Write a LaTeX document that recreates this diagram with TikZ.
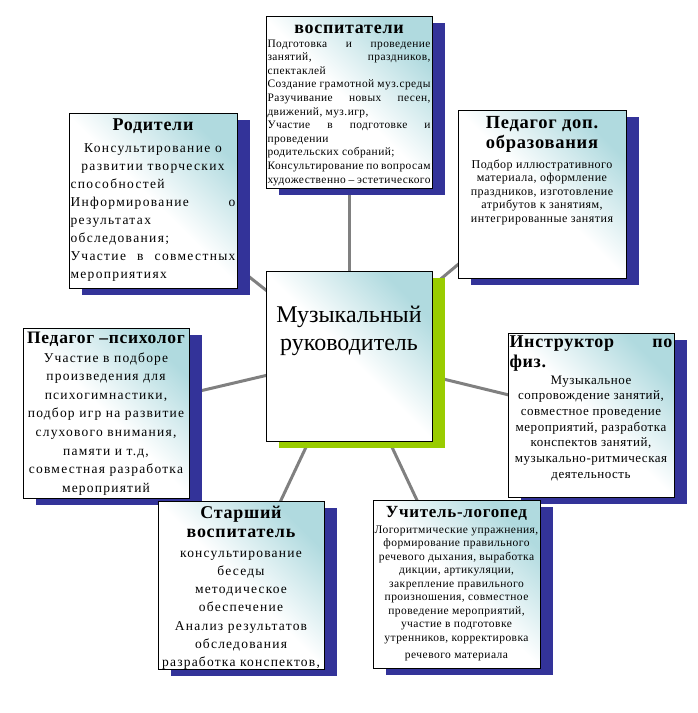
\documentclass[tikz,border=0pt]{standalone}
\usepackage{fontspec}
\setmainfont{Liberation Serif}
\pgfdeclarelayer{bgl}
\pgfdeclarelayer{shl}
\pgfsetlayers{bgl,shl,main}
\definecolor{tealc}{RGB}{176,218,223}
\definecolor{shblue}{RGB}{51,51,153}
\definecolor{shgreen}{RGB}{153,204,0}
\definecolor{lnk}{RGB}{128,128,128}
\newcommand\fsz[2]{\fontsize{#1pt}{#2pt}\selectfont}
\newcommand\LineC[1]{\hbox to\hsize{\hfil#1\hfil}}
\newcommand\LineL[1]{\hbox to\hsize{#1\hfil}}
\newcommand\LineJ[1]{\hbox to\hsize{#1}}
\newcommand\lsp[1]{\addfontfeatures{LetterSpace=#1}}
\newcommand\ttl[1]{\fsz{#1}{20}\bfseries\lsp{4}}
\tikzset{
  panel/.style={draw=black, line width=0.8pt, top color=tealc, bottom color=white, middle color=white, shading angle=-45, anchor=north west, inner sep=0pt, outer sep=0pt},
  link/.style={draw=lnk, line width=3pt},
  ptext/.style={anchor=base, inner sep=0pt, outer sep=0pt},
}
\begin{document}
\begin{tikzpicture}[x=1pt,y=-1pt]
\useasboundingbox (0,0) rectangle (698,713);

% воспитатели
\node[panel, minimum width=166pt, minimum height=172pt,
 path picture={\node[ptext] at ([yshift=-17pt]path picture bounding box.north) {\vtop{\hsize=163pt
  \ttl{18}\LineC{воспитатели}
  \fsz{11.4}{14}\mdseries\LineJ{Подготовка\hfill и\hfill проведение}
  \fsz{11.4}{13.6}\LineJ{занятий,\hfill праздников,}
  \LineL{спектаклей}
  \LineL{Создание грамотной муз.среды}
  \LineJ{Разучивание\hfill новых\hfill песен,}
  \LineL{движений,\ муз.игр,}
  \LineJ{Участие\hfill в\hfill подготовке\hfill и}
  \LineL{проведении}
  \LineL{родительских собраний;}
  \LineL{Консультирование по вопросам}
  \LineL{художественно – эстетического}}};}] (vosp) at (266,16) {};

% Родители
\node[panel, minimum width=168pt, minimum height=175pt,
 path picture={\node[ptext] at ([yshift=-17pt]path picture bounding box.north) {\vtop{\hsize=165pt
  \ttl{18}\LineC{Родители}
  \fsz{13.5}{22}\mdseries\lsp{10}\LineC{Консультирование о}
  \fsz{13.5}{18}\lsp{10}\LineC{развитии творческих}
  \LineL{способностей}
  \LineJ{Информирование\hfill о}
  \LineL{результатах}
  \LineL{обследования;}
  \LineJ{Участие\hfill в\hfill совместных}
  \LineL{мероприятиях}}};}] (rod) at (69,113) {};

% Педагог доп. образования
\node[panel, minimum width=168pt, minimum height=168pt,
 path picture={\node[ptext] at ([yshift=-18pt]path picture bounding box.north) {\vtop{\hsize=165pt
  \ttl{18.5}\LineC{Педагог доп.}
  \LineC{образования}
  \fsz{12}{20}\mdseries\LineC{Подбор иллюстративного}
  \fsz{12}{13.5}\LineC{материала, оформление}
  \LineC{праздников, изготовление}
  \LineC{атрибутов к занятиям,}
  \LineC{интегрированные занятия}}};}] (dop) at (458,110) {};

% Музыкальный руководитель
\node[panel, minimum width=166pt, minimum height=170pt,
 path picture={\node[ptext] at ([yshift=-51pt]path picture bounding box.north) {\vtop{\hsize=163pt
  \fsz{24}{28}\LineC{Музыкальный}
  \LineC{руководитель}}};}] (mr) at (266,271) {};

% Педагог-психолог
\node[panel, minimum width=166pt, minimum height=170pt,
 path picture={\node[ptext] at ([yshift=-15pt]path picture bounding box.north) {\vtop{\hsize=163pt
  \ttl{17.5}\LineC{Педагог –психолог}
  \fsz{13.5}{19}\mdseries\lsp{9}\LineC{Участие в подборе}
  \fsz{13.5}{18.6}\lsp{9}\LineC{произведения для}
  \LineC{психогимнастики,}
  \LineC{подбор игр на развитие}
  \LineC{слухового внимания,}
  \LineC{памяти и т.д,}
  \LineC{совместная разработка}
  \LineC{мероприятий}}};}] (psy) at (23,328) {};

% Инструктор по физ.
\node[panel, minimum width=166pt, minimum height=164pt,
 path picture={\node[ptext] at ([yshift=-14pt]path picture bounding box.north) {\vtop{\hsize=163pt
  \ttl{18}\LineJ{Инструктор\hfill по}
  \LineL{физ.}
  \fsz{13}{17}\mdseries\lsp{4}\LineC{Музыкальное}
  \fsz{13}{15.7}\lsp{4}\LineC{сопровождение занятий,}
  \LineC{совместное проведение}
  \LineC{мероприятий, разработка}
  \LineC{конспектов занятий,}
  \LineC{музыкально-ритмическая}
  \LineC{деятельность}}};}] (instr) at (508,333) {};

% Старший воспитатель
\node[panel, minimum width=166pt, minimum height=168pt,
 path picture={\node[ptext] at ([yshift=-17pt]path picture bounding box.north) {\vtop{\hsize=163pt
  \ttl{18}\LineC{Старший}
  \fsz{18}{19}\LineC{воспитатель}
  \fsz{13.5}{20}\mdseries\lsp{9}\LineC{консультирование}
  \fsz{13.5}{18.3}\lsp{9}\LineC{беседы}
  \LineC{методическое}
  \LineC{обеспечение}
  \LineC{Анализ результатов}
  \LineC{обследования}
  \LineC{разработка конспектов,}}};}] (star) at (158,501) {};

% Учитель-логопед
\node[panel, minimum width=167pt, minimum height=168pt,
 path picture={\node[ptext] at ([yshift=-17pt]path picture bounding box.north) {\vtop{\hsize=164pt
  \ttl{17}\LineC{Учитель-логопед}
  \fsz{11.5}{16}\mdseries\LineC{Логоритмические упражнения,}
  \fsz{11.5}{13.5}\LineC{формирование правильного}
  \LineC{речевого дыхания, выработка}
  \LineC{дикции, артикуляции,}
  \LineC{закрепление правильного}
  \LineC{произношения, совместное}
  \LineC{проведение мероприятий,}
  \LineC{участие в подготовке}
  \LineC{утренников, корректировка}
  \fsz{11.5}{17}\LineC{речевого материала}}};}] (logo) at (373,500) {};

% shadows
\begin{pgfonlayer}{shl}
  \foreach \b in {vosp,rod,dop,psy,instr,star,logo}
    \fill[shblue] ([shift={(13,7)}]\b.north west) rectangle ([shift={(13,7)}]\b.south east);
  \fill[shgreen] ([shift={(13,7)}]mr.north west) rectangle ([shift={(13,7)}]mr.south east);
\end{pgfonlayer}

% connectors
\begin{pgfonlayer}{bgl}
  \foreach \b in {vosp,rod,dop,psy,instr,star,logo}
    \draw[link] (mr.center) -- (\b.center);
\end{pgfonlayer}
\end{tikzpicture}
\end{document}
